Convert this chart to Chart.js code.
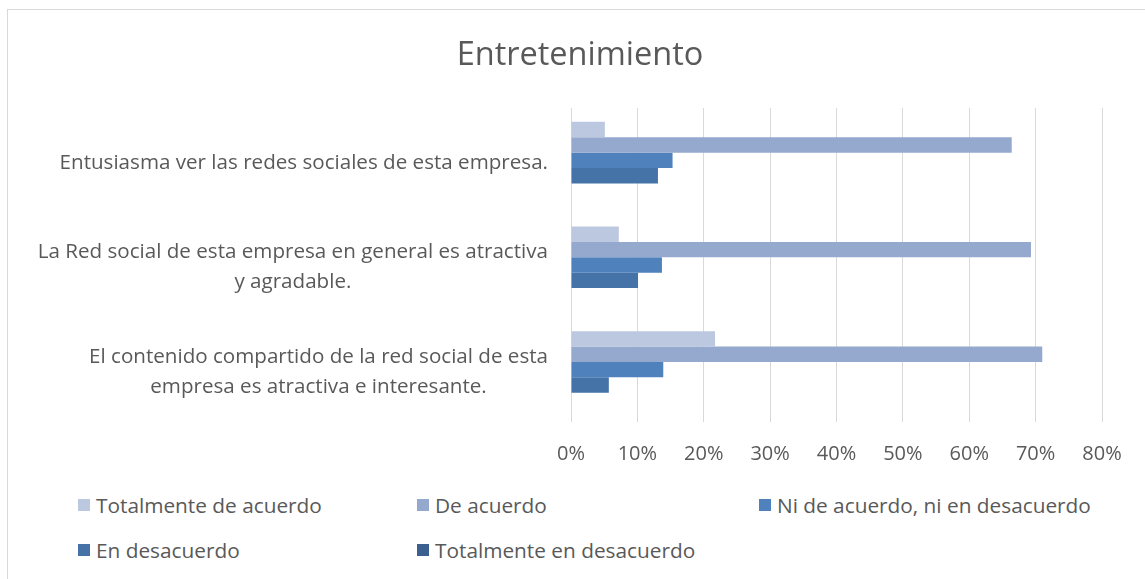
<!DOCTYPE html>
<html lang="es">
<head>
  <meta charset="UTF-8">
  <title>Entretenimiento</title>
  <script src="https://cdn.jsdelivr.net/npm/chart.js@4/dist/chart.umd.min.js"></script>
  <style>
    html, body { margin: 0; padding: 0; background: #fff; overflow: hidden; }
    .chart-box {
      position: absolute; left: 7px; top: 9px;
      width: 1144px; height: 600px;
      border: 1px solid #d9d9d9;
    }
    canvas { display: block; }
    .legend { position: absolute; left: 0; top: 0; }
    .legend-item {
      position: absolute; display: flex; align-items: center;
      font-family: 'Open Sans', sans-serif; font-size: 20.8px; color: #595959;
      white-space: nowrap; line-height: 24px;
    }
    .legend-item span.box { width: 12px; height: 12px; margin-right: 6px; }
  </style>
</head>
<body>
  <div class="chart-box">
    <canvas id="chart" width="1144" height="480"></canvas>
    <div class="legend" id="legend"></div>
  </div>

  <script>
    const FONT = "'Open Sans', sans-serif";
    const TEXT = '#595959';

    // categorías (cada una en líneas, como en Excel)
    const categories = [
      ['Entusiasma ver las redes sociales de esta empresa.'],
      ['La Red social de esta empresa en general es atractiva', 'y agradable.'],
      ['El contenido compartido de la red social de esta', 'empresa es atractiva e interesante.']
    ];

    const seriesNames = [
      'Totalmente de acuerdo',
      'De acuerdo',
      'Ni de acuerdo, ni en desacuerdo',
      'En desacuerdo',
      'Totalmente en desacuerdo'
    ];

    // valores en %
    const totalmenteDeAcuerdo = [5.1, 7.2, 21.7];
    const deAcuerdo = [66.4, 69.3, 71.0];
    const niDeAcuerdo = [15.3, 13.7, 13.9];
    const enDesacuerdo = [13.1, 10.1, 5.7];
    const totalmenteEnDesacuerdo = [0, 0, 0];

    const xTicks = [0, 10, 20, 30, 40, 50, 60, 70, 80];

    const colors = ['#bcc8e0', '#95a9cf', '#4f81bd', '#4573a7', '#3b5f8f'];
    const values = [totalmenteDeAcuerdo, deAcuerdo, niDeAcuerdo, enDesacuerdo, totalmenteEnDesacuerdo];

    // etiquetas del eje Y: centradas entre sí, bloque alineado a la derecha
    const categoryLabels = {
      id: 'categoryLabels',
      afterDraw(chart) {
        const ctx = chart.ctx;
        const scale = chart.scales.y;
        const right = chart.chartArea.left - 23;
        const lh = 30;
        ctx.save();
        ctx.font = '20.6px ' + FONT;
        ctx.fillStyle = TEXT;
        ctx.textAlign = 'center';
        ctx.textBaseline = 'middle';
        categories.forEach((lines, i) => {
          const y = scale.getPixelForTick(i) + 2.5;
          const w = Math.max(...lines.map(l => ctx.measureText(l).width));
          const cx = right - w / 2;
          lines.forEach((l, j) => {
            ctx.fillText(l, cx, y + (j - (lines.length - 1) / 2) * lh);
          });
        });
        ctx.restore();
      }
    };

    const ctx = document.getElementById('chart').getContext('2d');
    const chart = new Chart(ctx, {
      type: 'bar',
      data: {
        labels: categories,
        datasets: seriesNames.map((name, i) => ({
          label: name,
          data: values[i],
          backgroundColor: colors[i],
          borderWidth: 0,
          barPercentage: 1,
          categoryPercentage: 0.735
        }))
      },
      options: {
        indexAxis: 'y',
        responsive: false,
        animation: false,
        layout: { padding: 0 },
        plugins: {
          legend: { display: false },
          tooltip: { enabled: false },
          title: {
            display: true,
            text: 'Entretenimiento',
            color: TEXT,
            font: { family: FONT, size: 32.5, weight: 'normal' },
            padding: { top: 26, bottom: 33 }
          }
        },
        scales: {
          x: {
            min: 0,
            max: 80,
            afterBuildTicks: s => { s.ticks = xTicks.map(v => ({ value: v })); },
            afterFit: s => { s.height = 68; },
            grid: { color: '#d9d9d9', lineWidth: 1, drawTicks: false },
            border: { display: false },
            ticks: {
              padding: 20,
              color: TEXT,
              font: { family: FONT, size: 20 },
              callback: v => v + '%'
            }
          },
          y: {
            afterFit: s => { s.width = 563; },
            grid: { display: false },
            border: { display: false },
            ticks: { display: false }
          },
          y2: {
            type: 'category',
            position: 'right',
            afterFit: s => { s.width = 50; },
            grid: { display: false },
            border: { display: false },
            ticks: { display: false }
          }
        }
      },
      plugins: [categoryLabels]
    });

    // leyenda en dos filas, columnas fijas
    const legendEl = document.getElementById('legend');
    const cols = [70, 409, 751];
    const rows = [495, 540];
    chart.data.datasets.forEach((ds, i) => {
      const item = document.createElement('div');
      item.className = 'legend-item';
      item.style.left = cols[i % 3] + 'px';
      item.style.top = (rows[Math.floor(i / 3)] - 12) + 'px';
      item.innerHTML = '<span class="box" style="background:' + ds.backgroundColor + '"></span>' + ds.label;
      legendEl.appendChild(item);
    });
  </script>
</body>
</html>
